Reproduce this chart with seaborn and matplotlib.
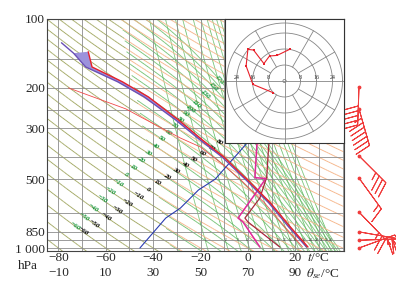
import numpy as np
import pandas as pd
import matplotlib
matplotlib.use("Agg")
import matplotlib.pyplot as plt
from matplotlib.ticker import NullLocator, NullFormatter
from matplotlib.collections import LineCollection
import seaborn as sns

sns.set_style("white")
plt.rcParams["font.family"] = ["Liberation Serif", "DejaVu Serif"]
plt.rcParams["mathtext.fontset"] = "stix"
plt.rcParams["axes.unicode_minus"] = True

# ---------------- data ----------------
temp_p = [990, 810, 636, 505, 400, 337, 276, 219, 188, 162, 139]
temp_t = [25.3, 17.9, 9.5, -0.1, -10.2, -19.3, -29.3, -42.0, -53.0, -65.8, -67.4]

parcel_p = [990, 810, 636, 505, 400, 337, 276, 219, 188, 162, 141, 127]
parcel_t = [24.7, 17.2, 8.8, -0.8, -11.0, -20.3, -30.5, -43.8, -55.0, -68.5, -73.6, -78.7]

dew_p = [990, 810, 636, 505, 426, 362, 331, 268, 247, 200]
dew_t = [23.0, 15.6, 7.0, -3.0, -11.3, -20.1, -28.5, -45.2, -51.5, -75.7]

blue_p = [1000, 740, 669, 558, 500, 348, 320]
blue_t = [-45.6, -34.7, -28.5, -20.9, -13.8, -0.4, 1.0]

mag_p = [320, 348, 493, 497, 558, 740, 770, 990]
mag_t = [4.0, 3.8, 2.9, 7.5, 4.2, -4.2, -2.1, 5.0]

brown_p = [320, 348, 490, 605, 740, 770, 990]
brown_t = [9.0, 8.8, 7.9, 5.0, -1.3, 0.0, 13.4]

hodo_u = [-5.8, -15.8, -19.2, -18.3, -15.5, -10.3, -7.5, -3.7, 2.5]
hodo_v = [-5.8, -1.7, 7.5, 15.8, 15.5, 8.7, 12.5, 12.8, 15.8]
hodo_rings = [8, 16, 24]

barb_p = [198, 247, 396, 495, 697, 850, 925, 1000]
barb_dir = [182, 164, 135, 144, 136, 100, 88, 70]
barb_spd = [20, 26, 14, 6, 10, 10, 12, 10]

y_ticks = [100, 200, 300, 500, 850, 1000]
y_ticklabels = ["100", "200", "300", "500", "850", "1 000"]
t_ticks = [-80, -60, -40, -20, 0, 20]
thse_ticks = [-10, 10, 30, 50, 70, 90]
grid_p = [150, 200, 250, 300, 400, 500, 700, 850, 925, 1000]
theta_labels = list(range(-60, 81, 10))
thse_labels = list(range(-60, 101, 10)) + [110, 130, 150, 170]
mix_w = [1, 2, 3, 4, 6, 8, 10, 12, 14, 16, 20, 24, 28, 32, 36, 40]

# ---------------- figure / axes ----------------
W, H = 396, 283
fig = plt.figure(figsize=(W / 100, H / 100), dpi=100)
AX_L, AX_R, AX_T, AX_B = 47, 344, 19, 251
ax = fig.add_axes([AX_L / W, 1 - AX_B / H, (AX_R - AX_L) / W, (AX_B - AX_T) / H])
XMIN, XMAX = -84.8, 40.5
PMAX, PMIN = 1030.6, 100
ax.set_yscale("log")
ax.set_xlim(XMIN, XMAX)
ax.set_ylim(PMAX, PMIN)
PX_C = (AX_R - AX_L) / (XMAX - XMIN)
PX_D = (AX_B - AX_T) / np.log10(PMAX / PMIN)

GREEN = "#62bb62"
ORANGE = "#f6b68a"
OLIVE = "#a2a862"
R0 = 0.25  # g/kg: where dry and moist adiabats stop coinciding

# ---------------- thermodynamic background ----------------
Rd, cp, Lv, eps = 287.04, 1005.7, 2.501e6, 0.622
kap = Rd / cp
T0 = 273.15
pgrid = np.geomspace(PMIN * 0.98, PMAX * 1.01, 220)


def esat(Tk):
    tc = Tk - T0
    return 6.112 * np.exp(17.67 * tc / (tc + 243.5))


def rsat(Tk, p):
    e = esat(Tk)
    return eps * e / np.maximum(p - e, 1.0)


def dTdlnp(Tk, p):
    r = rsat(Tk, p)
    return (Rd * Tk + Lv * r) / (cp + Lv ** 2 * r * eps / (Rd * Tk ** 2))


def segs(t, p):
    pts = np.column_stack([t, p])
    return np.stack([pts[:-1], pts[1:]], axis=1)


# pseudo-adiabats
tg = np.linspace(150, 330, 5000)
thse_g = tg * np.exp(Lv * rsat(tg, 1000.0) / (cp * tg))
thse_vals = np.arange(-90, 171, 10)
T1000 = np.interp(thse_vals + T0, thse_g, tg)


def integrate(T_start, lnps):
    T = T_start.copy()
    out = [T.copy()]
    for i in range(len(lnps) - 1):
        h = lnps[i + 1] - lnps[i]
        pa, pm, pb = np.exp(lnps[i]), np.exp(lnps[i] + h / 2), np.exp(lnps[i + 1])
        k1 = dTdlnp(T, pa)
        k2 = dTdlnp(T + h / 2 * k1, pm)
        k3 = dTdlnp(T + h / 2 * k2, pm)
        k4 = dTdlnp(T + h * k3, pb)
        T = T + h / 6 * (k1 + 2 * k2 + 2 * k3 + k4)
        out.append(T.copy())
    return np.array(out)


lnp_up = np.linspace(np.log(1000), np.log(PMIN * 0.98), 400)
lnp_dn = np.linspace(np.log(1000), np.log(PMAX * 1.01), 12)
up = integrate(T1000, lnp_up)
dn = integrate(T1000, lnp_dn)
moist_p = np.concatenate([np.exp(lnp_dn[::-1]), np.exp(lnp_up[1:])])
moist_T = np.concatenate([dn[::-1], up[1:]]) - T0

moist_segs = []
for j in range(len(thse_vals)):
    t = moist_T[:, j]
    sg = segs(t, moist_p)
    rmid = rsat(0.5 * (t[:-1] + t[1:]) + T0, 0.5 * (moist_p[:-1] + moist_p[1:])) * 1000
    moist_segs.extend(list(sg[rmid > R0]))
ax.add_collection(LineCollection(moist_segs, colors=GREEN, linewidths=0.6, zorder=1.0))

mix_segs = []
for w in mix_w:
    e = w * pgrid / (622.0 + w)
    le = np.log(e / 6.112)
    td = 243.5 * le / (17.67 - le)
    mix_segs.extend(list(segs(td, pgrid)))
    e9 = w * 925 / (622.0 + w)
    l9 = np.log(e9 / 6.112)
    ax.text(243.5 * l9 / (17.67 - l9), 925, str(w), fontsize=2.6, color="#333333",
            ha="center", va="center", zorder=2)
ax.add_collection(LineCollection(mix_segs, colors=GREEN, linewidths=0.55, zorder=1.0))

dry_T = {}
dry_segs, dry_cols = [], []
for th in np.arange(-90, 350, 10):
    tt = (th + T0) * (pgrid / 1000) ** kap - T0
    dry_T[th] = tt
    sg = segs(tt, pgrid)
    rmid = rsat(0.5 * (tt[:-1] + tt[1:]) + T0, 0.5 * (pgrid[:-1] + pgrid[1:])) * 1000
    dry_segs.extend(list(sg))
    dry_cols.extend([OLIVE if r < R0 else ORANGE for r in rmid])
ax.add_collection(LineCollection(dry_segs, colors=dry_cols, linewidths=0.65, zorder=1.2))

# grid
for t in np.arange(-80, 41, 10):
    ax.axvline(t, color="#8c8c8c", lw=0.6, zorder=1.5)
for p in grid_p:
    ax.axhline(p, color="#8c8c8c", lw=0.6, zorder=1.5)


# ---------------- isoline labels ----------------
def scr(t, p):
    return np.asarray(t) * PX_C, -PX_D * np.log10(np.asarray(p))


def crossing(t, p, A, B):
    X, Y = scr(t, p)
    XA, YA = scr(*A)
    XB, YB = scr(*B)
    s = (X - XA) * (YB - YA) - (Y - YA) * (XB - XA)
    idx = np.where(np.sign(s[:-1]) != np.sign(s[1:]))[0]
    if len(idx) == 0:
        return None
    i = idx[0]
    f = s[i] / (s[i] - s[i + 1])
    tc = t[i] + f * (t[i + 1] - t[i])
    lp = np.log(p[i]) + f * (np.log(p[i + 1]) - np.log(p[i]))
    ang = np.degrees(np.arctan2(Y[i + 1] - Y[i], X[i + 1] - X[i]))
    if ang > 90:
        ang -= 180
    if ang < -90:
        ang += 180
    return tc, np.exp(lp), ang


def lab(v):
    return ("\u2212" + str(-v)) if v < 0 else str(v)


for v in theta_labels:
    r = crossing(dry_T[v], pgrid, (-70.0, 850.0), (-10.9, 341.0))
    if r:
        ax.text(r[0], r[1], lab(v), rotation=r[2], rotation_mode="anchor", ha="center",
                va="center", fontsize=5, fontweight="bold", style="italic", color="black", zorder=2.5)

for v in thse_labels:
    j = list(thse_vals).index(v)
    r = crossing(moist_T[:, j], moist_p, (-72.8, 802.0), (-13.0, 190.0))
    if r:
        ax.text(r[0], r[1], lab(v), rotation=r[2], rotation_mode="anchor", ha="center",
                va="center", fontsize=5, fontweight="bold", style="italic", color="#12963a", zorder=2.5)

# ---------------- sounding ----------------
fill_t = [t for t, p in zip(temp_t, temp_p) if p <= 400] + \
         [t for t, p in zip(parcel_t, parcel_p) if 141 <= p <= 400][::-1]
fill_p = [p for p in temp_p if p <= 400] + [p for p in parcel_p if 141 <= p <= 400][::-1]
ax.fill(fill_t, fill_p, color="#9c92dc", lw=0, zorder=3)


def sline(t, p, color, lw, z):
    df = pd.DataFrame({"t": t, "p": p})
    sns.lineplot(data=df, x="t", y="p", sort=False, estimator=None, color=color, lw=lw, ax=ax,
                 zorder=z, legend=False)


sline(dew_t, dew_p, "#f04848", 0.6, 3.2)
sline(blue_t, blue_p, "#2a3cb0", 0.8, 3.3)
sline(brown_t, brown_p, "#a8283c", 0.9, 3.4)
sline(mag_t, mag_p, "#e0289a", 1.1, 3.5)
sline(parcel_t, parcel_p, "#6a4fb5", 1.0, 3.6)
sline(temp_t, temp_p, "#e8202a", 1.0, 3.7)

ax.set_xlabel("")
ax.set_ylabel("")
ax.set_xlim(XMIN, XMAX)
ax.set_ylim(PMAX, PMIN)

# ---------------- ticks ----------------
ax.yaxis.set_minor_locator(NullLocator())
ax.yaxis.set_minor_formatter(NullFormatter())
ax.set_yticks(y_ticks)
ax.set_yticklabels(y_ticklabels)
ax.set_xticks(t_ticks)
ax.set_xticklabels([lab(v) for v in t_ticks])
ax.tick_params(axis="y", length=0, pad=1.5, labelsize=9.5)
ax.tick_params(axis="x", length=0, pad=0.5, labelsize=9.5)
for s in ax.spines.values():
    s.set_color("#444444")
    s.set_linewidth(0.8)
    s.set_zorder(6)

sec = ax.secondary_xaxis("bottom", functions=(lambda t: t + 70, lambda s: s - 70))
sec.set_xticks(thse_ticks)
sec.set_xticklabels([lab(v) for v in thse_ticks])
sec.tick_params(axis="x", length=0, pad=11.5, labelsize=9.5)
sec.spines["bottom"].set_visible(False)

fig.text(28 / W, 1 - 266 / H, "hPa", ha="center", va="center", fontsize=9.5)
fig.text(307 / W, 1 - 258 / H, "$t$/°C", ha="left", va="center", fontsize=9.5)
fig.text(306 / W, 1 - 273.5 / H, r"$\theta_{se}$/°C", ha="left", va="center", fontsize=9.5)

# ---------------- hodograph inset ----------------
ins = fig.add_axes([225 / W, 1 - 143 / H, 119 / W, 124 / H], zorder=10)
ins.set_facecolor("white")
ang = np.linspace(0, 2 * np.pi, 240)
RING_C = "#858585"
for r in [0.8] + hodo_rings + [29]:
    ins.plot(r * np.cos(ang), r * np.sin(ang), color=RING_C, lw=0.6)
for a in range(0, 360, 30):
    if a % 90 == 0:
        continue
    rad = np.deg2rad(a)
    ins.plot([8 * np.cos(rad), 29 * np.cos(rad)], [8 * np.sin(rad), 29 * np.sin(rad)], color=RING_C, lw=0.6)
ins.axhline(0, color=RING_C, lw=0.6)
ins.axvline(0, color=RING_C, lw=0.6)
for r in hodo_rings:
    for sgn in (-1, 1):
        ins.text(sgn * r, 1.8, str(r), fontsize=4.3, ha="center", va="center", color="#333333")
hd = pd.DataFrame({"u": hodo_u, "v": hodo_v})
sns.lineplot(data=hd, x="u", y="v", sort=False, estimator=None, color="#e8202a", lw=0.8,
             marker="s", markersize=2, markeredgewidth=0, ax=ins, zorder=3)
ins.set_xlim(-29.75, 29.75)
ins.set_ylim(-31, 31)
ins.set_xticks([])
ins.set_yticks([])
ins.set_xlabel("")
ins.set_ylabel("")
for s in ins.spines.values():
    s.set_color("#333333")
    s.set_linewidth(0.8)

# ---------------- wind barbs ----------------
bax = fig.add_axes([348 / W, 1 - AX_B / H, 48 / W, (AX_B - AX_T) / H])
bax.set_yscale("log")
bax.set_ylim(PMAX, PMIN)
bax.set_xlim(0, 48)
bax.axis("off")
d = np.deg2rad(np.array(barb_dir, dtype=float))
spd = np.array(barb_spd, dtype=float)
bu = -spd * np.sin(d)
bv = -spd * np.cos(d)
bx = np.full(len(barb_p), 11.0)
bax.barbs(bx, barb_p, bu, bv, length=7.4, color="#f03c3c", lw=0.7,
          barb_increments=dict(half=2, full=4, flag=100), clip_on=False)
bax.scatter(bx, barb_p, s=3, color="#f03c3c", clip_on=False, zorder=4)

fig.savefig("out.png", dpi=100)
